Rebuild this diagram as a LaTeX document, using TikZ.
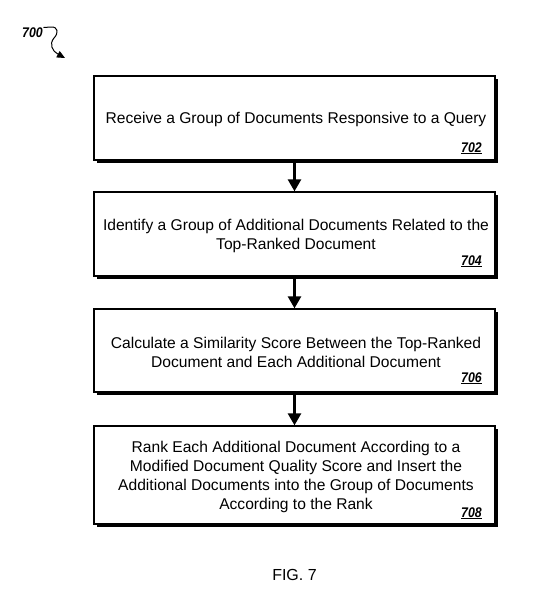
\documentclass[tikz,border=0pt]{standalone}
\usepackage{fontspec}
\setmainfont{Liberation Sans}
\newfontfamily\labfont[FakeStretch=0.88]{Liberation Sans}
\usetikzlibrary{arrows.meta,shadows}
\tikzset{
  stepbox/.style={draw, line width=1.3pt, minimum width=401pt, inner sep=0pt, fill=white,
    drop shadow={shadow xshift=2.8pt, shadow yshift=-2.8pt, fill=black, opacity=1}},
  txt/.style={font=\fontsize{15.6}{19}\selectfont, align=center, inner sep=0pt},
  lab/.style={font=\labfont\fontsize{14}{14}\selectfont\bfseries\itshape, anchor=base east, inner sep=0pt},
  arr/.style={line width=2.6pt, -{Triangle[width=13pt,length=12pt]}},
}
\begin{document}
\begin{tikzpicture}[x=1pt,y=-1pt]
\useasboundingbox (0,0) rectangle (542,598);

% reference label 700
\node[font=\labfont\fontsize{14}{14}\selectfont\bfseries\itshape, anchor=base, inner sep=0pt] (n700) at (32.5,37) {700};
\coordinate (c0) at (43.5,27.5);
\coordinate (c1) at (65,58);
\draw[line width=1pt, -{Triangle[width=7pt,length=8pt]}] (c0) -- (51,27)
  .. controls (58,26.5) and (59,33) .. (54,38)
  .. controls (49,44) and (52,51) .. (c1);

% boxes
\node[stepbox, minimum height=84pt] (b1) at (294.5,118) {};
\node[stepbox, minimum height=84pt] (b2) at (294.5,234) {};
\node[stepbox, minimum height=83pt] (b3) at (294.5,350.5) {};
\node[stepbox, minimum height=98pt] (b4) at (294.5,475) {};

% texts
\node[txt] (t1) at (296,119.5) {Receive a Group of Documents Responsive to a Query};
\node[txt] (t2) at (296,236) {Identify a Group of Additional Documents Related to the\\Top-Ranked Document};
\node[txt] (t3) at (296,352.5) {Calculate a Similarity Score Between the Top-Ranked\\Document and Each Additional Document};
\node[txt] (t4) at (296,477) {Rank Each Additional Document According to a\\Modified Document Quality Score and Insert the\\Additional Documents into the Group of Documents\\According to the Rank};

% step numbers
\node[lab] (l1) at (482,152) {\underline{702}};
\node[lab] (l2) at (482,265) {\underline{704}};
\node[lab] (l3) at (482,382) {\underline{706}};
\node[lab] (l4) at (482,517) {\underline{708}};

% connectors
\draw[arr] ([yshift=-2.8pt]b1.south) -- (b2.north);
\draw[arr] ([yshift=-2.8pt]b2.south) -- (b3.north);
\draw[arr] ([yshift=-2.8pt]b3.south) -- (b4.north);

% caption
\node[font=\fontsize{16}{16}\selectfont, anchor=base, inner sep=0pt] (fig) at (294.5,580.5) {FIG. 7};
\end{tikzpicture}
\end{document}
